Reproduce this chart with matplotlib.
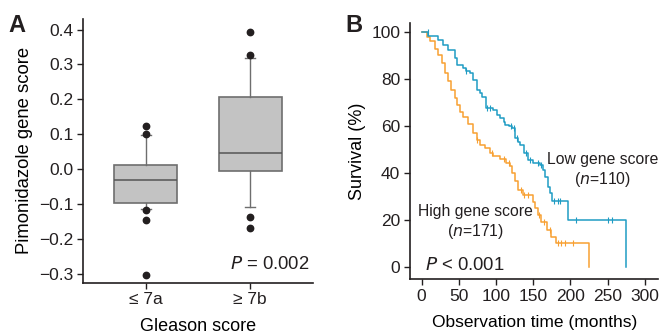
import numpy as np
import matplotlib
matplotlib.use("Agg")
import matplotlib.pyplot as plt

plt.rcParams['font.family'] = ['Liberation Sans', 'DejaVu Sans']

# ---------------- Panel A data (box plot stats) ----------------
groups = ["\u2264 7a", "\u2265 7b"]
box_q1 = [-0.096, -0.006]
box_med = [-0.031, 0.046]
box_q3 = [0.013, 0.206]
whisk_lo = [-0.115, -0.108]
whisk_hi = [0.098, 0.319]
outliers_a = [0.125, 0.101, -0.117, -0.146, -0.302]
outliers_b = [0.392, 0.328, -0.137, -0.168]

# ---------------- Panel B data (Kaplan-Meier steps) ----------------
low_t = [0, 9, 22, 29, 36, 45, 47, 56, 60, 65, 69, 74, 78, 81, 87, 96, 101, 105, 110, 112,
         118, 121, 125, 130, 132, 137, 143, 150, 159, 163, 166, 170, 172, 175, 197, 274.5]
low_s = [100, 98.4, 96.7, 94.6, 92.5, 89, 86, 84.6, 83.5, 82.5, 79.7, 75.4, 74, 72.5, 67.6,
         66.9, 64.7, 63.3, 61.5, 60.5, 59.8, 59, 54.8, 53, 52, 48.4, 45.5, 44, 43.4, 41.2,
         38.4, 34, 31.3, 28, 20, 0]
low_cens_t = [8, 60, 88, 92, 120, 124, 128, 140, 145, 156, 160, 178, 183, 186, 208, 250, 256]

high_t = [0, 7, 11, 18, 22, 27, 31, 36, 40, 45, 47, 51, 56, 62, 69, 74, 78, 85, 92, 96,
          105, 114, 119, 122, 125, 130, 136, 150, 152, 157, 161, 168, 174, 181, 225]
high_s = [100, 98, 96, 93, 90.3, 86.8, 82.5, 79, 75.4, 71.8, 69, 66, 64, 61, 57, 54, 52,
          50.5, 48.4, 47, 46, 44, 42.7, 39.8, 36.3, 32.7, 30.4, 27.7, 24.9, 22, 19.2, 15.6,
          12.5, 10.2, 0]
high_cens_t = [75, 95, 110, 118, 133, 138, 143, 158, 165, 172, 183, 187, 193, 203]

BLUE = "#1f9cc4"
ORANGE = "#f8a032"
DARK = "#231f20"

fig = plt.figure(figsize=(6.62, 3.34), dpi=100)

# ================= Panel A =================
axA = fig.add_axes([0.1254, 0.1536, 0.3474, 0.7894])
stats = []
fl = [outliers_a, outliers_b]
for i in range(2):
    stats.append(dict(med=box_med[i], q1=box_q1[i], q3=box_q3[i],
                      whislo=whisk_lo[i], whishi=whisk_hi[i], fliers=fl[i], label=groups[i]))
axA.bxp(stats, positions=[1, 2], widths=0.6, patch_artist=True, capwidths=0.1,
        boxprops=dict(facecolor="#c3c3c3", edgecolor="#6e6e6e", linewidth=1.2),
        medianprops=dict(color="#555555", linewidth=1.1),
        whiskerprops=dict(color="#6e6e6e", linewidth=1.0),
        capprops=dict(color="#6e6e6e", linewidth=1.0),
        flierprops=dict(marker='o', markersize=4.6, markerfacecolor=DARK,
                        markeredgecolor=DARK, linestyle='none'))
axA.set_xlim(0.4, 2.6)
axA.set_ylim(-0.325, 0.43)
yt = [0.4, 0.3, 0.2, 0.1, 0.0, -0.1, -0.2, -0.3]
axA.set_yticks(yt)
axA.set_yticklabels([f"{v:.1f}".replace("-", "\u2212") for v in yt])
axA.set_xticks([1, 2])
axA.set_xticklabels(groups)
axA.set_ylabel("Pimonidazole gene score", fontsize=13.3, labelpad=4)
axA.set_xlabel("Gleason score", fontsize=13, labelpad=7.5)
axA.text(0.985, 0.035, "$\\it{P}$ = 0.002", transform=axA.transAxes, ha="right", va="bottom",
         fontsize=13.3, color=DARK)
fig.text(0.012, 0.905, "A", fontsize=17, fontweight="bold", color=DARK)

# ================= Panel B =================
axB = fig.add_axes([0.6193, 0.1638, 0.3751, 0.7682])


def step_at(ts, ss, t):
    idx = np.searchsorted(ts, t, side="right") - 1
    return np.asarray(ss)[idx]


for ts, ss, ct, col in [(high_t, high_s, high_cens_t, ORANGE), (low_t, low_s, low_cens_t, BLUE)]:
    axB.step(ts, ss, where="post", color=col, linewidth=1.1)
    axB.plot(ct, step_at(ts, ss, ct), linestyle="none", marker="|", markersize=4,
             color=col, markeredgewidth=0.8)

axB.set_xlim(-15.7, 318)
axB.set_ylim(-5.4, 104)
axB.set_xticks([0, 50, 100, 150, 200, 250, 300])
axB.set_yticks([0, 20, 40, 60, 80, 100])
axB.set_ylabel("Survival (%)", fontsize=13, labelpad=4)
axB.set_xlabel("Observation time (months)", fontsize=12.5, labelpad=8)
axB.text(243.5, 45.5, "Low gene score", ha="center", va="center", fontsize=11.3, color=DARK)
axB.text(243.5, 37, "($\\it{n}$=110)", ha="center", va="center", fontsize=11.3, color=DARK)
axB.text(72.5, 23.5, "High gene score", ha="center", va="center", fontsize=11.3, color=DARK)
axB.text(72.5, 15, "($\\it{n}$=171)", ha="center", va="center", fontsize=11.3, color=DARK)
axB.text(4, 0.4, "$\\it{P}$ < 0.001", ha="left", va="center", fontsize=13.3, color=DARK)
fig.text(0.522, 0.905, "B", fontsize=17, fontweight="bold", color=DARK)

for ax in (axA, axB):
    for s in ("top", "right"):
        ax.spines[s].set_visible(False)
    for s in ("left", "bottom"):
        ax.spines[s].set_color(DARK)
        ax.spines[s].set_linewidth(1.2)
    ax.tick_params(direction="out", length=4, width=1.0, colors=DARK, labelsize=12.5, pad=3)

fig.savefig("out.png", dpi=100)
